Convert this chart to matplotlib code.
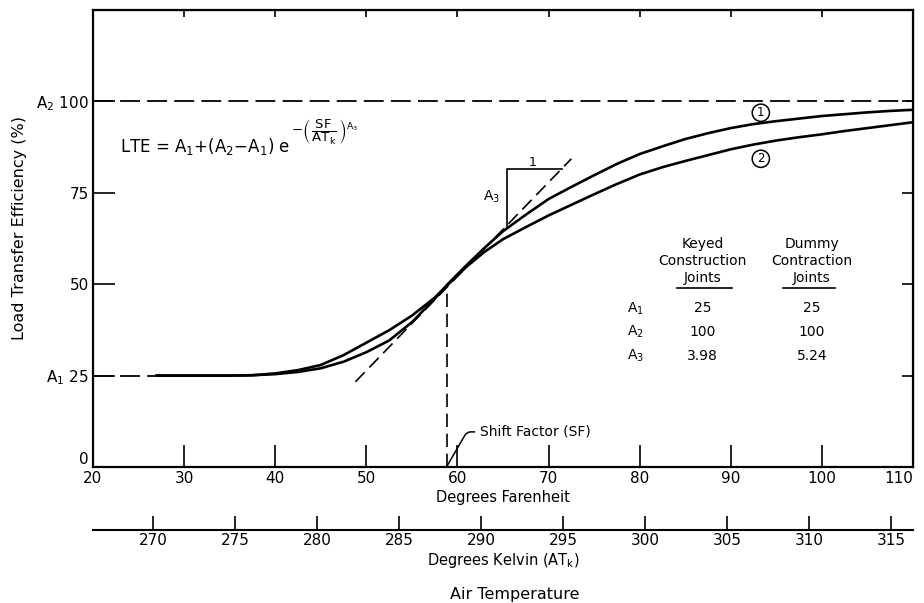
import numpy as np
import matplotlib
matplotlib.use('Agg')
import matplotlib.pyplot as plt

plt.rcParams['font.family'] = ['DejaVu Sans']
plt.rcParams['mathtext.default'] = 'regular'

temp_f = [27, 30, 35, 37.5, 40, 42.5, 45, 47.5, 50, 52.5, 55, 57.5, 59, 61, 63, 65,
          67.5, 70, 72.5, 75, 77.5, 80, 82.5, 85, 87.5, 90, 92.5, 95, 97.5, 100,
          102.5, 105, 107.5, 110]
# curve 1 - keyed construction joints
lte_keyed = [25.0, 25.0, 25.0, 25.1, 25.4, 26.0, 27.0, 28.8, 31.4, 34.6, 39.6, 46.0,
             50.2, 55.2, 60.0, 64.5, 69.0, 73.3, 76.6, 79.8, 82.9, 85.6, 87.7, 89.7,
             91.3, 92.7, 93.8, 94.6, 95.3, 96.0, 96.5, 97.0, 97.4, 97.7]
# curve 2 - dummy contraction joints
lte_dummy = [25.0, 25.0, 25.0, 25.1, 25.6, 26.5, 27.9, 30.6, 34.0, 37.4, 41.4, 46.3,
             50.0, 54.8, 58.9, 62.3, 65.6, 68.8, 71.7, 74.6, 77.4, 80.0, 82.0, 83.7,
             85.3, 86.9, 88.2, 89.3, 90.2, 91.0, 91.9, 92.7, 93.5, 94.3]

a1, a2 = 25, 100
shift_factor = 58.8
tangent_f = [48.8, 72.5]
tangent_lte = [23.3, 84.3]

f_ticks = [20, 30, 40, 50, 60, 70, 80, 90, 100, 110]
lte_ticks = [0, 25, 50, 75, 100]
lte_labels = ['0', 'A$_1$ 25', '50', '75', 'A$_2$ 100']
k_ticks = [270, 275, 280, 285, 290, 295, 300, 305, 310, 315]

table_rows = ['A$_1$', 'A$_2$', 'A$_3$']
keyed_vals = ['25', '100', '3.98']
dummy_vals = ['25', '100', '5.24']


def f_to_k(f):
    return (np.asarray(f) - 32) / 1.8 + 273


def k_to_f(k):
    return (np.asarray(k) - 273) * 1.8 + 32


fig = plt.figure(figsize=(9.24, 6.03), dpi=100)
ax = fig.add_axes([93 / 924, 1 - 467 / 603, 820 / 924, 457 / 603])

ax.plot(temp_f, lte_keyed, color='black', lw=1.9, solid_joinstyle='round')
ax.plot(temp_f, lte_dummy, color='black', lw=1.9, solid_joinstyle='round')

# asymptotes, tangent and shift factor
ax.plot([20, 110], [a2, a2], color='black', lw=1.3, dashes=(11, 4))
ax.plot([20, temp_f[0]], [a1, a1], color='black', lw=1.3, dashes=(11, 4))
ax.plot(tangent_f, tangent_lte, color='black', lw=1.2, dashes=(8, 4))
ax.plot([shift_factor, shift_factor], [0, 50], color='black', lw=1.2, dashes=(8, 4))

# slope triangle
ax.plot([65.4, 65.4, 71.5], [66.0, 81.6, 81.6], color='black', lw=1.2)
ax.text(68.3, 81.4, '1', ha='center', va='bottom', fontsize=9)
ax.text(63.7, 74, 'A$_3$', ha='center', va='center', fontsize=10)

# LTE equation, exponent set as its own text so it reads at a larger size
ax.text(23.0, 87.8, r'LTE = A$_1$+(A$_2$$-$A$_1$) e', fontsize=12, va='center')
ax.text(41.7, 91.8, r'$-\left(\,\dfrac{SF}{AT_k}\,\right)^{A_3}$', fontsize=9.5,
        va='center', ha='left')

ax.annotate('Shift Factor (SF)', xy=(shift_factor, 0), xytext=(62.5, 9.6),
            fontsize=10, va='center',
            arrowprops=dict(arrowstyle='-', color='black', lw=1.1,
                            connectionstyle='angle,angleA=0,angleB=60,rad=4',
                            shrinkA=2, shrinkB=0))

for lab, yv in [('1', 96.9), ('2', 84.3)]:
    ax.text(93.3, yv, lab, ha='center', va='center', fontsize=8.5,
            bbox=dict(boxstyle='circle,pad=0.18', fc='white', ec='black', lw=1.1))

# parameter table
col1, col2, col0 = 86.9, 98.9, 78.6
ax.text(col1, 56.3, 'Keyed\nConstruction\nJoints', ha='center', va='center',
        fontsize=10, linespacing=1.25)
ax.text(col2, 56.3, 'Dummy\nContraction\nJoints', ha='center', va='center',
        fontsize=10, linespacing=1.25)
ax.plot([84.1, 90.1], [49.0, 49.0], color='black', lw=1.2)
ax.plot([95.7, 101.4], [49.0, 49.0], color='black', lw=1.2)
for i, yv in enumerate([43.4, 36.9, 30.3]):
    ax.text(col0, yv, table_rows[i], ha='left', va='center', fontsize=10)
    ax.text(col1, yv, keyed_vals[i], ha='center', va='center', fontsize=10)
    ax.text(col2, yv, dummy_vals[i], ha='center', va='center', fontsize=10)

ax.set_xlim(20, 110)
ax.set_ylim(0, 125)
ax.set_xticks(f_ticks)
ax.set_yticks(lte_ticks)
ax.set_yticklabels(lte_labels)
ax.tick_params(direction='in', length=16, width=1.2, labelsize=11, pad=3)
ax.get_yticklabels()[0].set_va('bottom')
ax.get_xticklabels()[-1].set_ha('right')
for sp in ax.spines.values():
    sp.set_linewidth(1.6)
ax.set_xlabel('Degrees Farenheit', fontsize=10.5, labelpad=3)

top = ax.secondary_xaxis('top')
top.set_xticks(f_ticks[1:-1])
top.set_xticklabels([])
top.tick_params(direction='in', length=5, width=1.2)

right = ax.secondary_yaxis('right')
right.set_yticks(lte_ticks[1:])
right.set_yticklabels([])
right.tick_params(direction='in', length=8, width=1.2)

kax = ax.secondary_xaxis(-0.138, functions=(f_to_k, k_to_f))
kax.set_xticks(k_ticks)
kax.tick_params(direction='in', length=10, width=1.2, labelsize=11, pad=2)
kax.spines['bottom'].set_linewidth(1.5)
kax.set_xlabel('Degrees Kelvin (AT$_k$)', fontsize=10.5, labelpad=2)

fig.text(20 / 924, 1 - 228 / 603, 'Load Transfer Efficiency (%)', rotation=90,
         ha='center', va='center', fontsize=11.5)
fig.text(515 / 924, 1 - 594 / 603, 'Air Temperature', ha='center', va='center',
         fontsize=11.5)

fig.savefig('out.png', dpi=100)
